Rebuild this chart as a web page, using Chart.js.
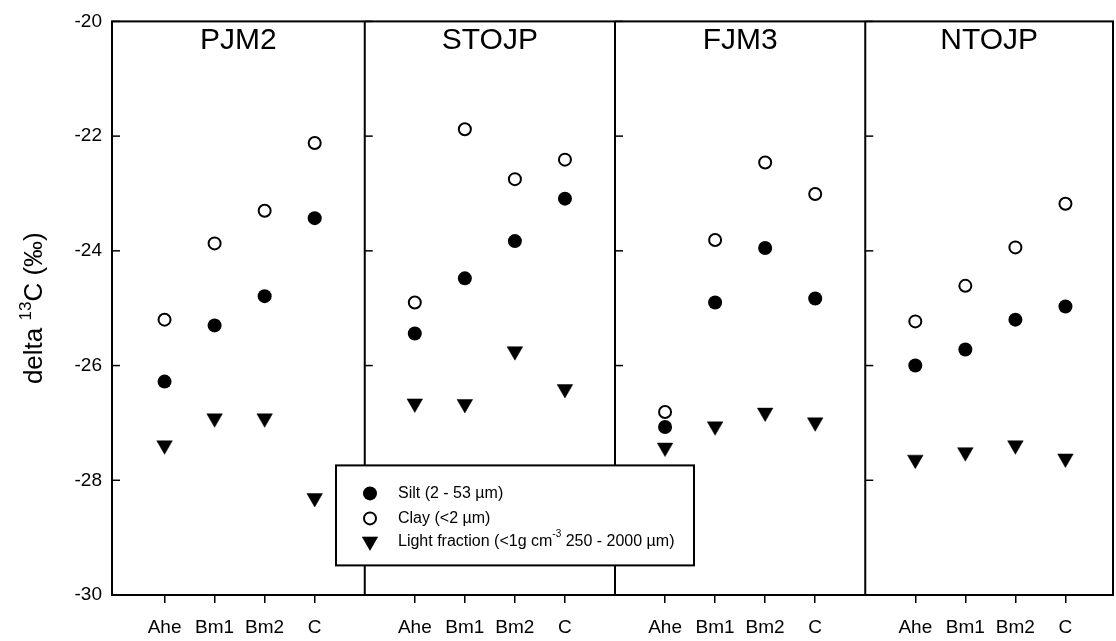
<!DOCTYPE html>
<html>
<head>
<meta charset="utf-8">
<script src="https://cdn.jsdelivr.net/npm/chart.js@4.4.1/dist/chart.umd.min.js"></script>
<style>
  html, body { margin: 0; padding: 0; background: #fff; }
  canvas { display: block; }
</style>
</head>
<body>
<canvas id="chart" width="1116" height="641"></canvas>
<script>
// Data
const sites    = ['PJM2', 'STOJP', 'FJM3', 'NTOJP'];
const horizons = ['Ahe', 'Bm1', 'Bm2', 'C'];

// delta 13C (per mil); one row per site, columns follow horizons
const silt = [
  [-26.28, -25.30, -24.79, -23.43],
  [-25.44, -24.48, -23.83, -23.09],
  [-27.07, -24.90, -23.95, -24.83],
  [-26.00, -25.72, -25.20, -24.97]
];
const clay = [
  [-25.20, -23.87, -23.30, -22.12],
  [-24.90, -21.88, -22.75, -22.41],
  [-26.81, -23.81, -22.46, -23.01],
  [-25.23, -24.61, -23.94, -23.18]
];
const lightFraction = [
  [-27.39, -26.92, -26.92, -28.31],
  [-26.66, -26.67, -25.75, -26.41],
  [-27.43, -27.06, -26.82, -26.99],
  [-27.64, -27.51, -27.39, -27.62]
];

const yTicks = [-30, -28, -26, -24, -22, -20];
const seriesLabels = ['Silt (2 - 53 µm)', 'Clay (<2 µm)', 'Light fraction (<1g cm^{-3} 250 - 2000 µm)'];
const yTitle = 'delta ^{13}C (‰)';

const FONT = "'Liberation Sans', Arial, sans-serif";
const SLOT = 5; // x units per site panel

// each site gets its own panel; horizons sit at 1..4 inside it
function points(rows) {
  const out = [];
  rows.forEach((row, s) => row.forEach((v, i) => out.push({ x: s * SLOT + i + 1, y: v })));
  return out;
}

const xTickValues = [];
sites.forEach((_, s) => horizons.forEach((_, i) => xTickValues.push(s * SLOT + i + 1)));

// draws text with ^{...} parts as superscript
function drawRich(ctx, str, x, y, size, align, supRatio = 0.62) {
  const parts = [];
  const re = /\^\{([^}]*)\}/g;
  let last = 0, m;
  while ((m = re.exec(str))) {
    if (m.index > last) parts.push({ t: str.slice(last, m.index), sup: false });
    parts.push({ t: m[1], sup: true });
    last = re.lastIndex;
  }
  if (last < str.length) parts.push({ t: str.slice(last), sup: false });

  const supSize = Math.round(size * supRatio);
  const widths = parts.map(p => {
    ctx.font = `${p.sup ? supSize : size}px ${FONT}`;
    return ctx.measureText(p.t).width;
  });
  const total = widths.reduce((a, b) => a + b, 0);
  let cx = align === 'center' ? x - total / 2 : x;
  ctx.textAlign = 'left';
  parts.forEach((p, i) => {
    ctx.font = `${p.sup ? supSize : size}px ${FONT}`;
    ctx.fillText(p.t, cx, p.sup ? y - size * 0.42 : y);
    cx += widths[i];
  });
}

function panelEdges(chart, s) {
  const x = chart.scales.x, a = chart.chartArea;
  const l = s === 0 ? a.left : x.getPixelForValue(s * SLOT);
  const r = s === sites.length - 1 ? a.right : x.getPixelForValue((s + 1) * SLOT);
  return [l, r];
}

const framePlugin = {
  id: 'frame',
  beforeDatasetsDraw(chart) {
    const ctx = chart.ctx, a = chart.chartArea, y = chart.scales.y;
    ctx.save();
    ctx.strokeStyle = '#000';
    ctx.lineWidth = 2;
    ctx.strokeRect(a.left, a.top, a.right - a.left, a.bottom - a.top);

    sites.forEach((name, s) => {
      const [l, r] = panelEdges(chart, s);
      if (s > 0) {
        ctx.lineWidth = 2;
        ctx.beginPath();
        ctx.moveTo(l, a.top);
        ctx.lineTo(l, a.bottom);
        ctx.stroke();
      }
      // inward y ticks on each panel's left edge
      ctx.lineWidth = 1.5;
      yTicks.forEach(v => {
        const py = y.getPixelForValue(v);
        ctx.beginPath();
        ctx.moveTo(l, py);
        ctx.lineTo(l + 8, py);
        ctx.stroke();
      });
      // panel title
      ctx.fillStyle = '#000';
      ctx.font = `30px ${FONT}`;
      ctx.textAlign = 'center';
      ctx.textBaseline = 'alphabetic';
      ctx.fillText(name, (l + r) / 2, a.top + 28);
    });

    // y axis title
    ctx.save();
    ctx.translate(42, (a.top + a.bottom) / 2);
    ctx.rotate(-Math.PI / 2);
    ctx.textBaseline = 'alphabetic';
    drawRich(ctx, yTitle, 0, 0, 26, 'center', 0.66);
    ctx.restore();
    ctx.restore();
  }
};

const legendPlugin = {
  id: 'boxLegend',
  afterDatasetsDraw(chart) {
    const ctx = chart.ctx, a = chart.chartArea;
    const bx = a.left + 224, by = a.top + 444, bw = 358, bh = 100;
    ctx.save();
    ctx.fillStyle = '#fff';
    ctx.fillRect(bx, by, bw, bh);
    ctx.strokeStyle = '#000';
    ctx.lineWidth = 2;
    ctx.strokeRect(bx, by, bw, bh);

    const rowY = [by + 28, by + 53, by + 76];
    chart.data.datasets.forEach((ds, i) => {
      ctx.fillStyle = ds.pointBackgroundColor;
      ctx.strokeStyle = ds.pointBorderColor;
      ctx.lineWidth = ds.pointBorderWidth;
      Chart.helpers.drawPoint(ctx, {
        pointStyle: ds.pointStyle,
        rotation: ds.pointRotation || 0,
        radius: ds.pointRadius,
        borderWidth: ds.pointBorderWidth
      }, bx + 34, rowY[i]);
      ctx.fillStyle = '#000';
      ctx.textBaseline = 'middle';
      drawRich(ctx, seriesLabels[i], bx + 62, rowY[i], 16, 'left');
    });
    ctx.restore();
  }
};

new Chart(document.getElementById('chart'), {
  type: 'scatter',
  data: {
    datasets: [
      {
        label: seriesLabels[0], data: points(silt),
        pointStyle: 'circle', pointRadius: 7,
        pointBackgroundColor: '#000', pointBorderColor: '#000', pointBorderWidth: 0
      },
      {
        label: seriesLabels[1], data: points(clay),
        pointStyle: 'circle', pointRadius: 6,
        pointBackgroundColor: '#fff', pointBorderColor: '#000', pointBorderWidth: 2
      },
      {
        label: seriesLabels[2], data: points(lightFraction),
        pointStyle: 'triangle', pointRotation: 180, pointRadius: 9,
        pointBackgroundColor: '#000', pointBorderColor: '#000', pointBorderWidth: 0.5
      }
    ]
  },
  options: {
    responsive: false,
    animation: false,
    layout: { autoPadding: false, padding: { top: 20, right: 3, left: 0, bottom: 0 } },
    plugins: { legend: { display: false }, tooltip: { enabled: false } },
    scales: {
      x: {
        type: 'linear',
        min: -0.05,
        max: sites.length * SLOT - 0.05,
        afterBuildTicks: s => { s.ticks = xTickValues.map(v => ({ value: v })); },
        afterFit: s => { s.height = 46; },
        ticks: {
          autoSkip: false,
          maxRotation: 0,
          color: '#000',
          font: { family: FONT, size: 19 },
          padding: 13,
          callback: v => {
            const s = Math.floor(v / SLOT);
            return horizons[Math.round(v - s * SLOT) - 1];
          }
        },
        grid: { drawOnChartArea: false, drawTicks: true, tickLength: 8, color: '#000', lineWidth: 1.5 },
        border: { display: false }
      },
      y: {
        min: -30,
        max: -20,
        afterBuildTicks: s => { s.ticks = yTicks.map(v => ({ value: v })); },
        afterFit: s => { s.width = 112; },
        ticks: {
          color: '#000',
          font: { family: FONT, size: 19 },
          padding: 10
        },
        grid: { display: false, drawTicks: false },
        border: { display: false }
      }
    }
  },
  plugins: [framePlugin, legendPlugin]
});
</script>
</body>
</html>
